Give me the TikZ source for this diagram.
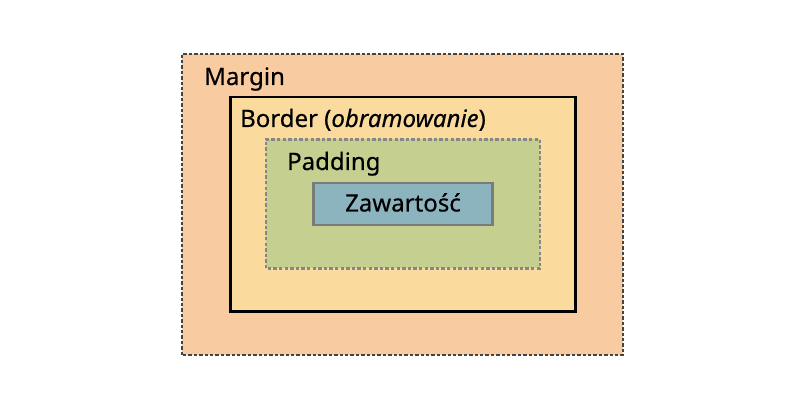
\documentclass[tikz,border=0pt]{standalone}
\usepackage{fontspec}
\setmainfont{Noto Sans}[FakeBold=0.4]
\begin{document}
\begin{tikzpicture}[x=1pt,y=1pt,
  lbl/.style={inner sep=0pt,anchor=base west,font=\fontsize{24}{28}\selectfont},
  marginbox/.style={fill=marginc,draw=margind,line width=2.1pt,dash pattern=on 3.4pt off 2pt},
  borderbox/.style={fill=borderc,draw=black,line width=2.8pt},
  paddingbox/.style={fill=paddingc,draw=paddingd,line width=2.1pt,dash pattern=on 3.4pt off 2.2pt},
  contentbox/.style={fill=contentc,draw=contentd,line width=2.1pt}]
\definecolor{marginc}{HTML}{F8CBA0}
\definecolor{margind}{HTML}{3A4550}
\definecolor{borderc}{HTML}{FBDA9D}
\definecolor{paddingc}{HTML}{C4CF90}
\definecolor{paddingd}{HTML}{85868A}
\definecolor{contentc}{HTML}{8CB4BE}
\definecolor{contentd}{HTML}{7A7C7C}
\useasboundingbox (0,0) rectangle (800,409);
\fill[white] (0,0) rectangle (800,409);
\draw[marginbox] (182,54) rectangle (623,355);
\draw[borderbox] (230.5,97.5) rectangle (575.5,312);
\draw[paddingbox] (266,140.5) rectangle (540,269.5);
\draw[contentbox] (313.5,184) rectangle (492.5,226);
\node[lbl] (m) at (204,324) {Margin};
\node[lbl] (b) at (240,282) {Border (\textit{obramowanie})};
\node[lbl] (p) at (287,239) {Padding};
\node[lbl,anchor=base] (c) at (403,197.5) {Zawartość};
\end{tikzpicture}
\end{document}
